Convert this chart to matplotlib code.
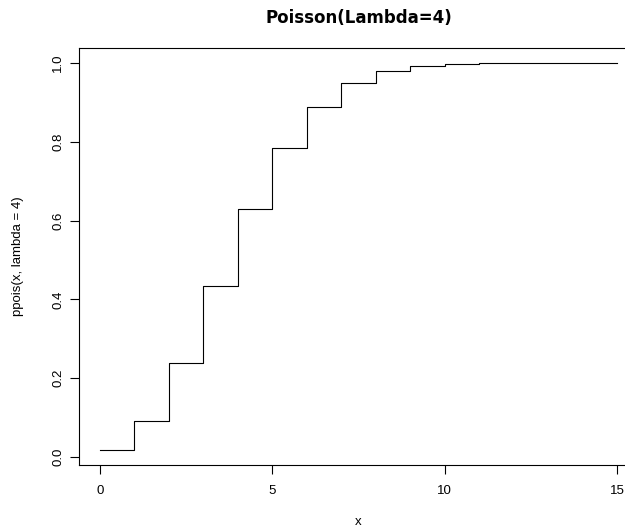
import numpy as np
import matplotlib
matplotlib.use('Agg')
import matplotlib.pyplot as plt

# ppois(x, lambda=4)
x = [0, 1, 2, 3, 4, 5, 6, 7, 8, 9, 10, 11, 12, 13, 14, 15]
cdf = [0.018, 0.092, 0.238, 0.433, 0.629, 0.785, 0.889, 0.949,
       0.979, 0.992, 0.997, 0.999, 0.9997, 0.9999, 1.0, 1.0]
xticks = [0, 5, 10, 15]
yticks = [0.0, 0.2, 0.4, 0.6, 0.8, 1.0]

plt.rcParams['font.family'] = ['Liberation Sans', 'DejaVu Sans']

W, H = 625, 529
fig = plt.figure(figsize=(W / 100, H / 100), dpi=100)

# plot region in pixels (R style, right edge falls off the canvas)
left, right, top, bottom = 79.3, 638.0, 47.6, 465.3
ax = fig.add_axes([left / W, 1 - bottom / H, (right - left) / W, (bottom - top) / H])

ax.step(x, cdf, where='post', color='black', lw=0.8)

ax.set_xlim(-0.6, 15.6)
ax.set_ylim(-0.021, 1.0393)

ax.set_xticks(xticks)
ax.set_xticklabels([str(t) for t in xticks])
ax.set_yticks(yticks)
ax.set_yticklabels([f'{t:.1f}' for t in yticks])

ax.tick_params(axis='both', direction='out', length=6.2, width=0.8, labelsize=9.5)
ax.tick_params(axis='x', pad=8)
ax.tick_params(axis='y', pad=4.5, labelrotation=90)
for lbl in ax.get_yticklabels():
    lbl.set_va('center')

for s in ax.spines.values():
    s.set_linewidth(0.8)

cx = (left + right) / 2 / W
# title in the reference is drawn wide, DejaVu bold gets closer to that width
fig.text(cx, 1 - 18 / H, 'Poisson(Lambda=4)', ha='center', va='center',
         fontsize=12, fontweight='bold', family=['DejaVu Sans'])
fig.text(cx, 1 - 522 / H, 'x', ha='center', va='center', fontsize=9.5)
fig.text(18 / W, 1 - (top + bottom) / 2 / H, 'ppois(x, lambda = 4)',
         ha='center', va='center', rotation=90, fontsize=9.5)

fig.savefig('out.png', dpi=100)
